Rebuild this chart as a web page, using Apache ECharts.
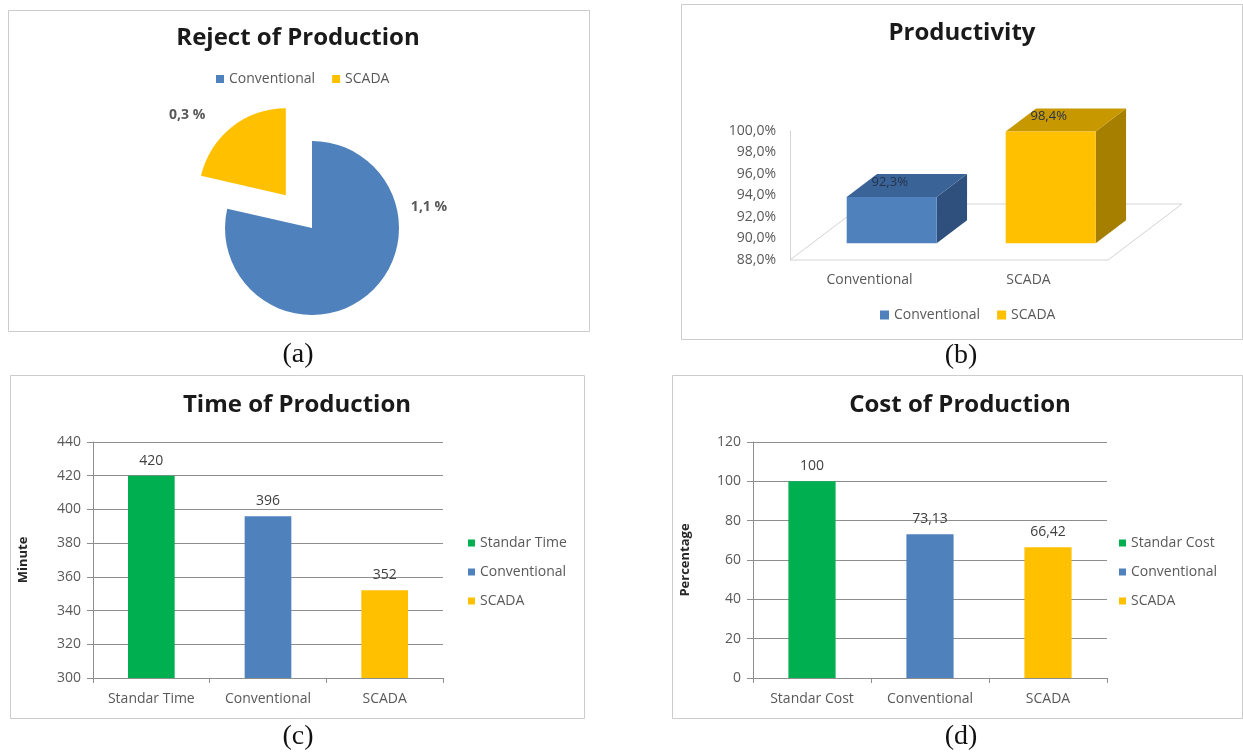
<!DOCTYPE html>
<html>
<head>
<meta charset="utf-8">
<script src="https://cdn.jsdelivr.net/npm/echarts@6/dist/echarts.min.js"></script>
<style>
  html, body { margin: 0; padding: 0; background: #ffffff; }
  #chart { width: 1243px; height: 753px; }
</style>
</head>
<body>
<div id="chart"></div>
<script>
// ---- data -------------------------------------------------------------
// (a) reject of production, percent
const rejectNames = ['Conventional', 'SCADA'];
const rejectValues = [1.1, 0.3];

// (b) productivity, percent
const productivityNames = ['Conventional', 'SCADA'];
const productivityValues = [92.3, 98.4];
const productivityMin = 88, productivityMax = 100, productivityStep = 2;

// (c) time of production, minutes
const timeNames = ['Standar Time', 'Conventional', 'SCADA'];
const timeValues = [420, 396, 352];
const timeMin = 300, timeMax = 440, timeStep = 20;

// (d) cost of production, percent
const costNames = ['Standar Cost', 'Conventional', 'SCADA'];
const costValues = [100, 73.13, 66.42];
const costMin = 0, costMax = 120, costStep = 20;

// ---- styling ----------------------------------------------------------
const FONT = "'Open Sans', 'Noto Sans', sans-serif";
const SERIF = "'Liberation Serif', 'DejaVu Serif', serif";
const GREEN = '#00b050', BLUE = '#4f81bd', GOLD = '#ffc000';
const TEXT = '#595959', LABEL = '#404040', GRIDLINE = '#8e8e8e';
const comma = v => String(v).replace('.', ',');

// 3D column geometry for the productivity chart
const DEPTH = [74, -56];          // floor depth vector, px
const COL_FRONT = 0.30, COL_BACK = 0.71, COL_HALF = 0.283;
const COLUMN_FACES = [
  { front: BLUE, top: '#3a6398', side: '#2f507c' },
  { front: GOLD, top: '#c89800', side: '#a67e00' }
];

const chart = echarts.init(document.getElementById('chart'), null, { renderer: 'canvas' });

function renderFloor(params) {
  const cs = params.coordSys;
  const x0 = cs.x, x1 = cs.x + cs.width, y0 = cs.y + cs.height;
  return {
    type: 'polygon',
    shape: { points: [[x0, y0], [x1, y0], [x1 + DEPTH[0], y0 + DEPTH[1]], [x0 + DEPTH[0], y0 + DEPTH[1]]] },
    style: { fill: 'none', stroke: '#d4d4d4', lineWidth: 1 }
  };
}

function columnRenderer(faces) {
  return function (params, api) {
    const i = api.value(0), v = api.value(1);
    const base = api.coord([i, productivityMin]);
    const top = api.coord([i, v]);
    const hw = params.coordSys.width / productivityNames.length * COL_HALF;
    const f0 = DEPTH[0] * COL_FRONT, f1 = DEPTH[1] * COL_FRONT;
    const b0 = DEPTH[0] * COL_BACK, b1 = DEPTH[1] * COL_BACK;
    const xl = base[0] - hw, xr = base[0] + hw, yt = top[1], yb = base[1];
    return {
      type: 'group',
      children: [
        { type: 'polygon', shape: { points: [[xr + f0, yt + f1], [xr + b0, yt + b1], [xr + b0, yb + b1], [xr + f0, yb + f1]] }, style: { fill: faces.side } },
        { type: 'polygon', shape: { points: [[xl + f0, yt + f1], [xl + b0, yt + b1], [xr + b0, yt + b1], [xr + f0, yt + f1]] }, style: { fill: faces.top } },
        { type: 'polygon', shape: { points: [[xl + f0, yt + f1], [xr + f0, yt + f1], [xr + f0, yb + f1], [xl + f0, yb + f1]] }, style: { fill: faces.front } },
        { type: 'text', x: base[0] + f0 - 2, y: yt + f1 - 15,
          style: { text: v.toFixed(1).replace('.', ',') + '%', align: 'center', verticalAlign: 'middle',
                   fill: '#26334a', fontSize: 13, fontFamily: FONT } }
      ]
    };
  };
}

function barSeries(names, values, colors, axisIndex) {
  return names.map((name, i) => ({
    type: 'bar',
    name: name,
    xAxisIndex: axisIndex,
    yAxisIndex: axisIndex,
    barGap: '-100%',
    barCategoryGap: '60%',
    data: values.map((v, j) => (j === i ? v : null)),
    itemStyle: { color: colors[i] },
    label: {
      show: true, position: 'top', distance: 8,
      color: LABEL, fontSize: 14, fontFamily: FONT,
      formatter: p => comma(p.value)
    }
  }));
}

function plainCategoryAxis(gridIndex, names) {
  return {
    gridIndex: gridIndex, type: 'category', data: names,
    axisLine: { show: true, lineStyle: { color: GRIDLINE, width: 1 } },
    axisTick: { show: true, length: 5, lineStyle: { color: GRIDLINE } },
    axisLabel: { color: TEXT, fontSize: 14, fontFamily: FONT, margin: 14 }
  };
}

function plainValueAxis(gridIndex, min, max, step, title, gap) {
  return {
    gridIndex: gridIndex, type: 'value', min: min, max: max, interval: step,
    name: title, nameLocation: 'middle', nameRotate: 90, nameGap: gap,
    nameTextStyle: { fontSize: 13, fontWeight: 'bold', color: '#262626', fontFamily: FONT },
    axisLine: { show: true, lineStyle: { color: GRIDLINE, width: 1 } },
    axisTick: { show: true, length: 6, lineStyle: { color: GRIDLINE } },
    splitLine: { show: true, lineStyle: { color: GRIDLINE, width: 1 } },
    axisLabel: { color: TEXT, fontSize: 14, fontFamily: FONT, margin: 12 }
  };
}

function titleAt(text, x, y) {
  return {
    text: text, left: x, top: y, textAlign: 'center', textVerticalAlign: 'middle', padding: 0,
    textStyle: { fontSize: 24, fontWeight: 'bold', color: '#1a1a1a', fontFamily: FONT }
  };
}

function legendAt(names, opts) {
  return Object.assign({
    data: names, icon: 'rect', itemWidth: 8, itemHeight: 8, padding: 0,
    selectedMode: false,
    textStyle: { color: TEXT, fontSize: 14, fontFamily: FONT }
  }, opts);
}

function frame(x, y, w, h) {
  return { type: 'rect', shape: { x: x + 0.5, y: y + 0.5, width: w, height: h },
           style: { fill: '#ffffff', stroke: '#cccccc', lineWidth: 1 }, z: -10 };
}

function caption(text, x, y) {
  return { type: 'text', x: x, y: y,
           style: { text: text, fill: '#111111', fontSize: 28, fontFamily: SERIF, align: 'center', verticalAlign: 'middle' } };
}

const PIE_CENTER = [312, 228];
const PIE_LABEL_SHIFT = [[117, -21], [-126, -94]];

const option = {
  animation: false,
  backgroundColor: '#ffffff',
  graphic: [
    frame(8, 10, 581, 321),
    frame(681, 4, 561, 335),
    frame(10, 375, 574, 343),
    frame(672, 375, 570, 343),
    caption('(a)', 298, 355),
    caption('(b)', 961, 356),
    caption('(c)', 298, 737),
    caption('(d)', 961, 737)
  ],
  title: [
    titleAt('Reject of Production', 298, 38),
    titleAt('Productivity', 962, 33),
    titleAt('Time of Production', 297, 405),
    titleAt('Cost of Production', 960, 405)
  ],
  legend: [
    legendAt(rejectNames, { left: 216, top: 72, itemGap: 17 }),
    legendAt(productivityNames, { left: 880, top: 308, itemWidth: 9, itemHeight: 9, itemGap: 17 }),
    legendAt(timeNames, { orient: 'vertical', left: 468, top: 536, itemWidth: 7, itemHeight: 7, itemGap: 15 }),
    legendAt(costNames, { orient: 'vertical', left: 1119, top: 536, itemWidth: 7, itemHeight: 7, itemGap: 15 })
  ],
  grid: [
    { left: 790, top: 131, width: 318, height: 129, outerBoundsMode: 'none' },
    { left: 93, top: 442, width: 350, height: 236, outerBoundsMode: 'none' },
    { left: 753, top: 442, width: 354, height: 236, outerBoundsMode: 'none' }
  ],
  xAxis: [
    {
      gridIndex: 0, type: 'category', data: productivityNames,
      axisLine: { show: false }, axisTick: { show: false },
      axisLabel: { color: TEXT, fontSize: 14, fontFamily: FONT, margin: 13 }
    },
    plainCategoryAxis(1, timeNames),
    plainCategoryAxis(2, costNames)
  ],
  yAxis: [
    {
      gridIndex: 0, type: 'value', min: productivityMin, max: productivityMax, interval: productivityStep,
      axisLine: { show: true, lineStyle: { color: '#d4d4d4', width: 1 } },
      axisTick: { show: false }, splitLine: { show: false },
      axisLabel: { color: TEXT, fontSize: 14, fontFamily: FONT, margin: 14,
                   formatter: v => v.toFixed(1).replace('.', ',') + '%' }
    },
    plainValueAxis(1, timeMin, timeMax, timeStep, 'Minute', 63),
    plainValueAxis(2, costMin, costMax, costStep, 'Percentage', 61)
  ],
  series: [
    {
      type: 'pie',
      name: 'Reject of Production',
      center: PIE_CENTER,
      radius: 87,
      startAngle: 90,
      clockwise: true,
      selectedMode: 'single',
      selectedOffset: 42,
      avoidLabelOverlap: false,
      emphasis: { disabled: true },
      data: rejectNames.map((n, i) => ({
        name: n, value: rejectValues[i], selected: i === 1,
        itemStyle: { color: [BLUE, GOLD][i] }
      })),
      label: {
        show: true, position: 'outside', color: TEXT, fontSize: 14, fontWeight: 'bold', fontFamily: FONT,
        formatter: p => comma(p.value) + ' %'
      },
      labelLine: { show: false },
      labelLayout: p => ({
        x: PIE_CENTER[0] + PIE_LABEL_SHIFT[p.dataIndex][0],
        y: PIE_CENTER[1] + PIE_LABEL_SHIFT[p.dataIndex][1],
        align: 'center', verticalAlign: 'middle'
      })
    },
    {
      type: 'custom', name: 'floor', xAxisIndex: 0, yAxisIndex: 0, silent: true,
      data: [[0, productivityMin]], renderItem: renderFloor
    },
    ...productivityNames.map((n, i) => ({
      type: 'custom', name: n, xAxisIndex: 0, yAxisIndex: 0,
      itemStyle: { color: COLUMN_FACES[i].front },
      data: [[i, productivityValues[i]]],
      renderItem: columnRenderer(COLUMN_FACES[i])
    })),
    ...barSeries(timeNames, timeValues, [GREEN, BLUE, GOLD], 1),
    ...barSeries(costNames, costValues, [GREEN, BLUE, GOLD], 2)
  ]
};

chart.setOption(option);
</script>
</body>
</html>
